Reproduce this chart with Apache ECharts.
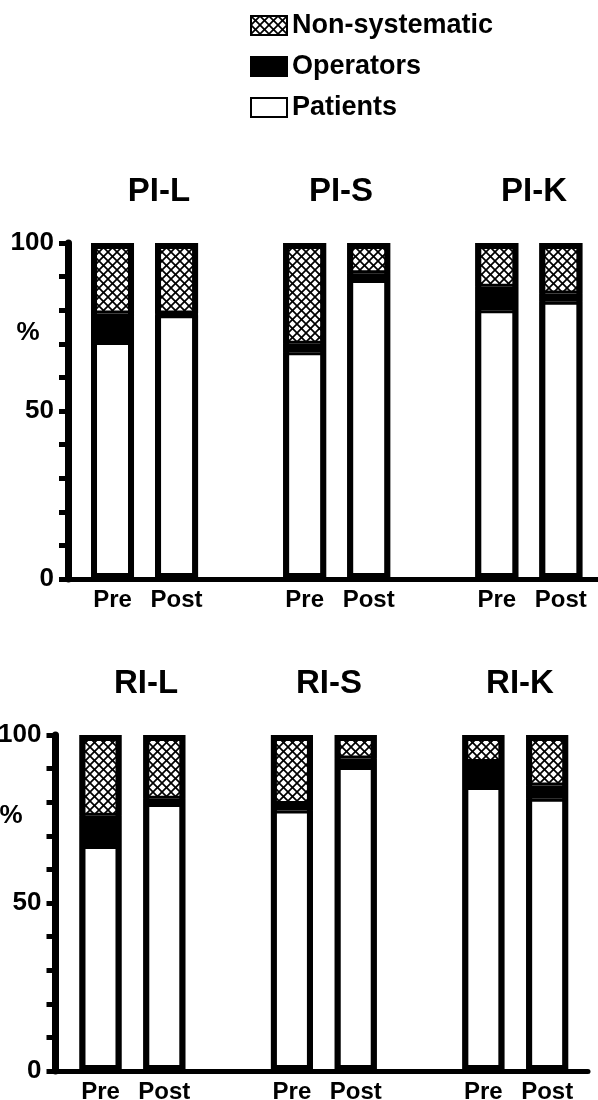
<!DOCTYPE html>
<html>
<head>
<meta charset="utf-8">
<script src="https://cdn.jsdelivr.net/npm/echarts@6/dist/echarts.min.js"></script>
<style>html,body{margin:0;padding:0;background:#fff;}#c{width:598px;height:1100px;}</style>
</head>
<body>
<div id="c"></div>
<script>
// ---- data ----
const topGroups = ['PI-L', 'PI-S', 'PI-K'];
const bottomGroups = ['RI-L', 'RI-S', 'RI-K'];
const phases = ['Pre', 'Post'];
const seriesNames = ['Non-systematic', 'Operators', 'Patients'];
// order in each array: L-Pre, L-Post, S-Pre, S-Post, K-Pre, K-Post
const piPatients      = [70.5, 78.5, 67.5, 89, 80, 82.5];
const piOperators     = [8.5, 0.5, 2.5, 2, 7, 2.5];
const piNonSystematic = [21, 21, 30, 9, 13, 15];
const riPatients      = [67, 79.5, 77.5, 90.5, 84.5, 81];
const riOperators     = [9, 1.5, 2, 2.5, 7.5, 4];
const riNonSystematic = [24, 19, 20.5, 7, 8, 15];
const yTickLabels = [0, 50, 100];

// ---- helpers ----
const FONT = '"Liberation Sans", Arial, Helvetica, sans-serif';
function hatch() {
  const s = 9;
  const c = document.createElement('canvas');
  c.width = s; c.height = s;
  const ctx = c.getContext('2d');
  ctx.fillStyle = '#fff'; ctx.fillRect(0, 0, s, s);
  ctx.strokeStyle = '#000'; ctx.lineWidth = 1.7;
  for (const k of [-s, 0, s]) {
    ctx.beginPath(); ctx.moveTo(k - 2, -2); ctx.lineTo(k + s + 2, s + 2); ctx.stroke();
    ctx.beginPath(); ctx.moveTo(k + s + 2, -2); ctx.lineTo(k - 2, s + 2); ctx.stroke();
  }
  return c;
}
const hatchFill = { image: hatch(), repeat: 'repeat' };
const slotOf = i => Math.floor(i / 2) * 3 + (i % 2);
// data rows as [value, slot]; encode maps column 1 -> x, column 0 -> y (so stacking is on y)
const rows = arr => arr.map((v, i) => [v, slotOf(i)]);
const slots = piPatients.map((v, i) => slotOf(i));

function panelSeries(gi, patients, operators, nonsys, bw) {
  const total = patients.map((v, i) => v + operators[i] + nonsys[i]);
  const base = { type: 'bar', xAxisIndex: gi, yAxisIndex: gi, stack: 's' + gi, barWidth: bw, barGap: '-100%',
    encode: { x: 1, y: 0 } };
  return [
    Object.assign({}, base, { name: 'Patients', data: rows(patients),
      itemStyle: { color: '#fff', borderColor: '#000', borderWidth: 3 } }),
    Object.assign({}, base, { name: 'Operators', data: rows(operators),
      itemStyle: { color: '#000', borderColor: '#000', borderWidth: 3 } }),
    Object.assign({}, base, { name: 'Non-systematic', data: rows(nonsys),
      itemStyle: { color: hatchFill, borderColor: '#000', borderWidth: 3 } }),
    { type: 'bar', name: 'outline' + gi, xAxisIndex: gi, yAxisIndex: gi, barWidth: bw, barGap: '-100%',
      encode: { x: 1, y: 0 }, data: rows(total), silent: true,
      itemStyle: { color: 'rgba(0,0,0,0)', borderColor: '#000', borderWidth: 6 } }
  ];
}

function xAxisCfg(gi, min, max) {
  return {
    gridIndex: gi, type: 'value', min: min, max: max,
    axisLine: { show: true, onZero: false, lineStyle: { color: '#000', width: 5 } },
    axisTick: { show: false }, splitLine: { show: false },
    axisLabel: { customValues: slots, formatter: v => phases[Math.round(v) % 3] || '',
      color: '#000', fontFamily: FONT, fontWeight: 'bold', fontSize: 24, margin: 9 }
  };
}
function yAxisCfg(gi) {
  return {
    gridIndex: gi, type: 'value', min: 0, max: 100, interval: 10,
    axisLine: { show: true, onZero: false, lineStyle: { color: '#000', width: 7 } },
    axisTick: { show: true, inside: false, length: 9, lineStyle: { color: '#000', width: 5 } },
    splitLine: { show: false },
    axisLabel: { formatter: v => yTickLabels.indexOf(v) >= 0 ? String(v) : '',
      color: '#000', fontFamily: FONT, fontWeight: 'bold', fontSize: 26, margin: 14 }
  };
}

const titleFont = 'bold 33px ' + FONT;
function txt(text, x, y, font) {
  return { type: 'text', x: x, y: y, style: { text: text, font: font, fill: '#000',
    textAlign: 'center', textVerticalAlign: 'middle' } };
}
const topTitleX = [159, 341, 534];
const bottomTitleX = [146, 329, 520];

const chart = echarts.init(document.getElementById('c'), null, { renderer: 'canvas' });
chart.setOption({
  animation: false,
  backgroundColor: '#fff',
  legend: {
    left: 245, top: 7, orient: 'vertical', selectedMode: false,
    itemWidth: 36, itemHeight: 19, itemGap: 14,
    textStyle: { color: '#000', fontFamily: FONT, fontWeight: 'bold', fontSize: 27 },
    data: [
      { name: 'Non-systematic', icon: 'rect', itemStyle: { color: hatchFill, borderColor: '#000', borderWidth: 2 } },
      { name: 'Operators', icon: 'rect', itemStyle: { color: '#000', borderColor: '#000', borderWidth: 2 } },
      { name: 'Patients', icon: 'rect', itemStyle: { color: '#fff', borderColor: '#000', borderWidth: 2 } }
    ]
  },
  grid: [
    { left: 68, right: 0, top: 243, height: 336, containLabel: false, outerBoundsMode: 'none' },
    { left: 55.5, right: 10, top: 735, height: 336, containLabel: false, outerBoundsMode: 'none' }
  ],
  xAxis: [xAxisCfg(0, -0.695, 7.58), xAxisCfg(1, -0.705, 7.64)],
  yAxis: [yAxisCfg(0), yAxisCfg(1)],
  series: [].concat(
    panelSeries(0, piPatients, piOperators, piNonSystematic, 43),
    panelSeries(1, riPatients, riOperators, riNonSystematic, 42)
  ),
  graphic: [].concat(
    topGroups.map((t, i) => txt(t, topTitleX[i], 192, titleFont)),
    bottomGroups.map((t, i) => txt(t, bottomTitleX[i], 684, titleFont)),
    [txt('%', 28, 333, 'bold 26px ' + FONT), txt('%', 11, 816, 'bold 26px ' + FONT)]
  )
});
</script>
</body>
</html>
